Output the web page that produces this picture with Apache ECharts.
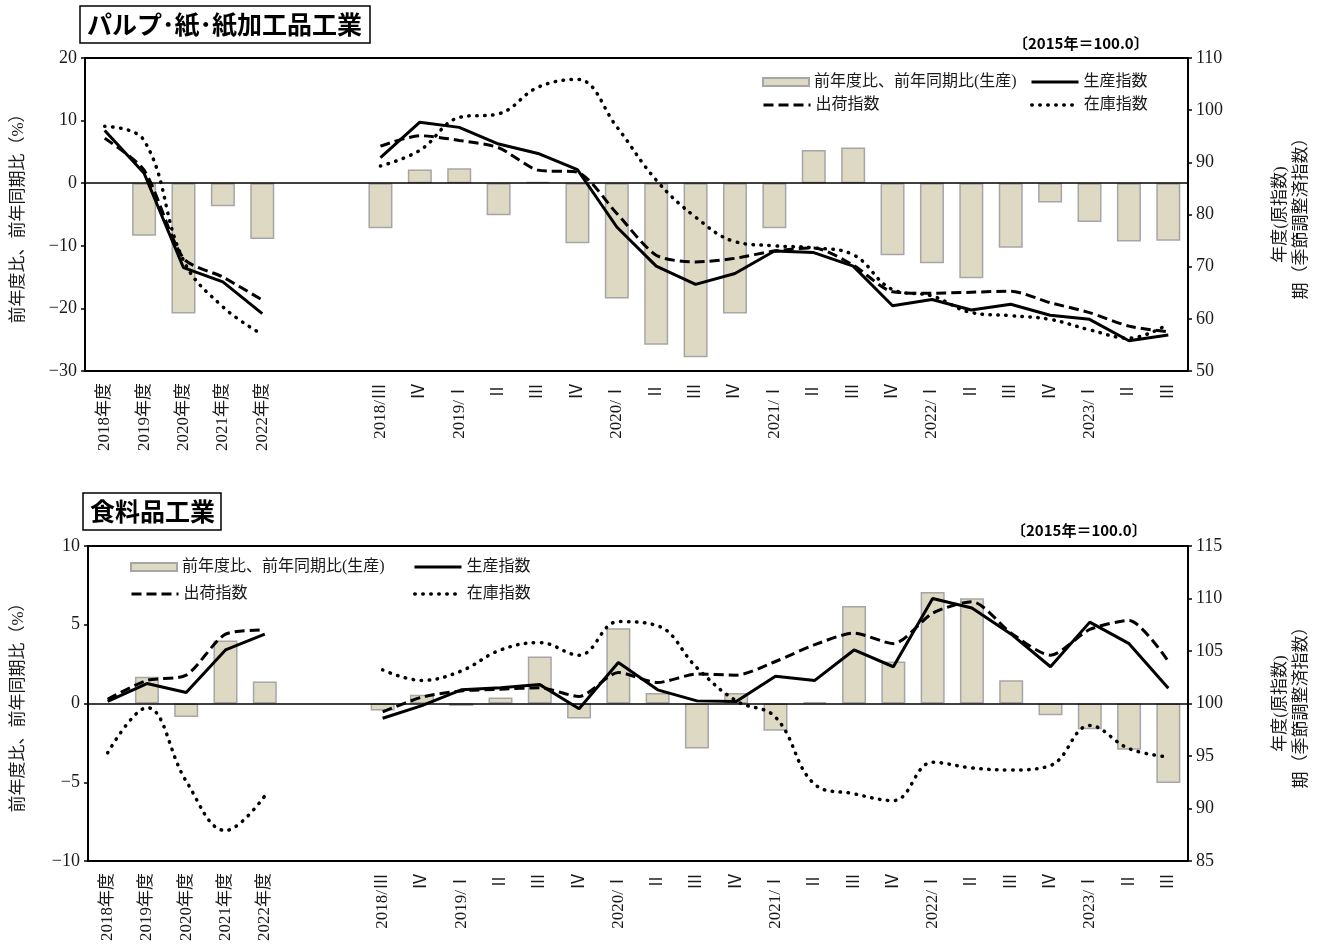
<!DOCTYPE html>
<html>
<head>
<meta charset="utf-8">
<script src="https://cdn.jsdelivr.net/npm/echarts@6/dist/echarts.min.js"></script>
<style>
  html, body { margin: 0; padding: 0; background: #fff; }
  #chart { width: 1320px; height: 950px; }
</style>
</head>
<body>
<div id="chart"></div>
<script>
// ---------- data ----------
const categories = ['2018年度','2019年度','2020年度','2021年度','2022年度','','',
  '2018/Ⅲ','Ⅳ','2019/Ⅰ','Ⅱ','Ⅲ','Ⅳ','2020/Ⅰ','Ⅱ','Ⅲ','Ⅳ','2021/Ⅰ','Ⅱ','Ⅲ','Ⅳ',
  '2022/Ⅰ','Ⅱ','Ⅲ','Ⅳ','2023/Ⅰ','Ⅱ','Ⅲ'];

// パルプ・紙・紙加工品工業
const pulpChange = [null, -8.4, -20.8, -3.7, -8.9, null, null,
  -7.2, 2.2, 2.4, -5.1, 0.2, -9.6, -18.4, -25.8, -27.8, -20.8, -7.2, 5.3, 5.7, -11.5,
  -12.8, -15.2, -10.3, -3.1, -6.2, -9.3, -9.2];
const pulpProd = [96.1, 87.9, 69.8, 67.1, 61.0, null, null,
  90.9, 97.7, 96.7, 93.5, 91.7, 88.6, 77.6, 70.1, 66.6, 68.7, 73.0, 72.7, 70.1, 62.5,
  63.7, 61.7, 62.8, 60.7, 59.9, 55.8, 56.9];
const pulpShip = [94.6, 88.5, 71.6, 68.0, 63.6, null, null,
  93.1, 95.1, 94.2, 92.8, 88.5, 88.1, 80.2, 72.2, 70.9, 71.6, 73.0, 73.6, 70.3, 65.2,
  64.9, 65.1, 65.3, 63.1, 61.2, 58.6, 57.5];
const pulpInv = [96.9, 94.2, 71.2, 62.3, 57.0, null, null,
  89.3, 92.3, 98.6, 99.3, 104.4, 105.9, 96.8, 86.6, 79.5, 74.8, 74.0, 73.6, 72.3, 65.6,
  64.4, 61.2, 60.6, 59.9, 57.9, 56.3, 59.0];

// 食料品工業
const foodChange = [null, 1.7, -0.85, 4.0, 1.4, null, null,
  -0.45, 0.55, -0.15, 0.38, 2.98, -0.95, 4.78, 0.66, -2.85, 0.66, -1.73, 0.08, 6.19, 2.66,
  7.08, 6.68, 1.48, -0.74, -1.63, -2.94, -5.05];
const foodProd = [100.2, 101.9, 101.05, 105.1, 106.6, null, null,
  98.6, 99.8, 101.3, 101.5, 101.8, 99.5, 103.9, 101.3, 100.25, 100.2, 102.6, 102.2, 105.1, 103.5,
  110.0, 109.1, 106.6, 103.5, 107.75, 105.7, 101.45];
const foodShip = [100.4, 102.2, 102.7, 106.6, 107.0, null, null,
  99.2, 100.6, 101.2, 101.36, 101.5, 100.67, 102.95, 102.0, 102.8, 102.7, 104.0, 105.6, 106.7, 105.7,
  108.6, 109.7, 106.7, 104.6, 107.05, 107.9, 104.0];
const foodInv = [95.3, 99.6, 92.6, 87.9, 91.2, null, null,
  103.2, 102.2, 103.1, 105.1, 105.8, 104.6, 107.8, 107.4, 103.4, 100.25, 98.7, 92.3, 91.4, 90.75,
  94.4, 93.86, 93.67, 94.1, 97.9, 95.7, 94.9];

const names = { bar: '前年度比、前年同期比(生産)', prod: '生産指数', ship: '出荷指数', inv: '在庫指数' };
const leftAxisName = '前年度比、前年同期比（%）';
const rightAxisName = '年度(原指数)\n期（季節調整済指数）';

// ---------- styles ----------
const FONT = "'Liberation Serif', 'Noto Sans CJK JP', serif";
const GOTHIC = "'Noto Sans CJK JP', sans-serif";
const TXT = '#1a1a1a';
const minus = v => String(v).replace('-', '−');

function xAxis(grid) {
  return {
    type: 'category', gridIndex: grid, data: categories,
    axisLine: { show: false }, axisTick: { show: false },
    axisLabel: { interval: 0, rotate: 90, margin: 12, fontSize: 17, color: TXT, fontFamily: FONT }
  };
}
function yAxis(grid, pos, min, max, interval, name, gap) {
  return {
    type: 'value', gridIndex: grid, position: pos, min, max, interval,
    name, nameLocation: 'middle', nameGap: gap,
    nameTextStyle: { fontSize: 17, color: TXT, fontFamily: FONT, lineHeight: 21, align: 'center' },
    axisLine: { show: true, lineStyle: { color: '#000', width: 2 } },
    axisTick: { show: true, inside: false, length: 4, lineStyle: { color: '#000', width: 1.5 } },
    axisLabel: { fontSize: 18, color: TXT, fontFamily: FONT, margin: 8, formatter: minus },
    splitLine: { show: false }
  };
}
function barSeries(grid, data) {
  return {
    name: names.bar, type: 'bar', xAxisIndex: grid, yAxisIndex: grid * 2, data,
    barWidth: 24, z: 2,
    itemStyle: { color: '#ddd9c3', borderColor: '#a6a6a6', borderWidth: 1.5 },
    markLine: {
      silent: true, symbol: ['none', 'none'], label: { show: false },
      lineStyle: { color: '#000', width: 1.5, type: 'solid' },
      emphasis: { disabled: true },
      data: [{ yAxis: 0 }]
    }
  };
}
function lineStyleFor(type) {
  const ls = { color: '#000', width: 3, type: 'solid' };
  if (type === 'dashed') { ls.type = [10, 5]; }
  if (type === 'dotted') { ls.type = [0.5, 7.5]; ls.cap = 'round'; ls.width = 3.5; }
  return ls;
}
function lineSeries(grid, name, data, type, smooth) {
  return {
    name, type: 'line', xAxisIndex: grid, yAxisIndex: grid * 2 + 1, data,
    symbol: 'none', showSymbol: false, smooth, connectNulls: false, z: 3,
    lineStyle: lineStyleFor(type), itemStyle: { color: '#000' }
  };
}
function legend(name, left, top, kind) {
  const l = {
    data: [name], left, top, padding: 0, itemGap: 0,
    itemWidth: kind === 'bar' ? 46 : 47, itemHeight: kind === 'bar' ? 8 : 14,
    selectedMode: false,
    textStyle: { fontSize: 16, color: TXT, fontFamily: FONT }
  };
  if (kind === 'bar') l.icon = 'rect';
  else {
    l.itemStyle = { opacity: 0 };
    l.lineStyle = lineStyleFor(kind);
  }
  return l;
}

const option = {
  animation: false,
  backgroundColor: '#fff',
  title: [
    { text: 'パルプ･紙･紙加工品工業', left: 80, top: 6, borderColor: '#000', borderWidth: 1.5,
      padding: [6, 8, 6, 7], textStyle: { fontSize: 25, fontWeight: 'bold', color: '#000', fontFamily: GOTHIC } },
    { text: '食料品工業', left: 83, top: 493, borderColor: '#000', borderWidth: 1.5,
      padding: [6, 6, 6, 7], textStyle: { fontSize: 25, fontWeight: 'bold', color: '#000', fontFamily: GOTHIC } },
    { text: '〔2015年＝100.0〕', left: 1008, top: 31,
      textStyle: { fontSize: 15, fontWeight: 'bold', color: '#000', fontFamily: GOTHIC } },
    { text: '〔2015年＝100.0〕', left: 1006, top: 518,
      textStyle: { fontSize: 15, fontWeight: 'bold', color: '#000', fontFamily: GOTHIC } }
  ],
  legend: [
    legend(names.bar, 762, 74, 'bar'),
    legend(names.prod, 1030, 74, 'solid'),
    legend(names.ship, 762, 97, 'dashed'),
    legend(names.inv, 1030, 97, 'dotted'),
    legend(names.bar, 130, 559, 'bar'),
    legend(names.prod, 413, 559, 'solid'),
    legend(names.ship, 130, 586, 'dashed'),
    legend(names.inv, 413, 586, 'dotted')
  ],
  grid: [
    { left: 80, top: 58, width: 1111, height: 313, show: true, borderColor: '#000', borderWidth: 2, backgroundColor: 'transparent' },
    { left: 83, top: 546, width: 1109, height: 315, show: true, borderColor: '#000', borderWidth: 2, backgroundColor: 'transparent' }
  ],
  xAxis: [xAxis(0), xAxis(1)],
  yAxis: [
    yAxis(0, 'left', -30, 20, 10, leftAxisName, 56),
    yAxis(0, 'right', 50, 110, 10, rightAxisName, 82),
    yAxis(1, 'left', -10, 10, 5, leftAxisName, 59),
    yAxis(1, 'right', 85, 115, 5, rightAxisName, 82)
  ],
  series: [
    barSeries(0, pulpChange),
    lineSeries(0, names.prod, pulpProd, 'solid', false),
    lineSeries(0, names.ship, pulpShip, 'dashed', 0.25),
    lineSeries(0, names.inv, pulpInv, 'dotted', 0.4),
    barSeries(1, foodChange),
    lineSeries(1, names.prod, foodProd, 'solid', false),
    lineSeries(1, names.ship, foodShip, 'dashed', 0.25),
    lineSeries(1, names.inv, foodInv, 'dotted', 0.4)
  ]
};

const chart = echarts.init(document.getElementById('chart'), null, { renderer: 'canvas' });
chart.setOption(option);
</script>
</body>
</html>
